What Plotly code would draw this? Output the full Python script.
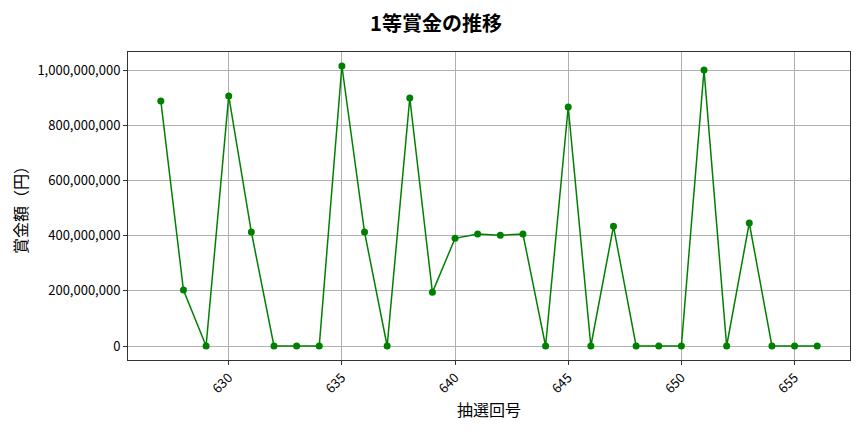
import plotly.graph_objects as go

# 抽選回号 と 1等賞金（円）
draws = list(range(627, 657))
prizes = [
    888_000_000, 203_000_000, 0, 906_000_000, 413_000_000,
    0, 0, 0, 1_014_500_000, 413_000_000,
    0, 898_600_000, 194_400_000, 390_000_000, 405_800_000,
    401_000_000, 405_800_000, 0, 866_000_000, 0,
    433_600_000, 0, 0, 0, 1_000_000_000,
    0, 445_700_000, 0, 0, 0,
]
x_ticks = [630, 635, 640, 645, 650, 655]
y_ticks = [0, 200_000_000, 400_000_000, 600_000_000, 800_000_000, 1_000_000_000]

FONT = "Noto Sans CJK JP"

fig = go.Figure()
fig.add_trace(go.Scatter(
    x=draws, y=prizes, mode="lines+markers",
    line=dict(color="#008000", width=1.5),
    marker=dict(color="#008000", size=7),
))

span = max(prizes) - min(prizes)
# page body has an 8px margin, so the figure is sized to the visible area
fig.update_layout(
    width=856, height=424,
    margin=dict(l=120, r=14, t=44, b=72),
    paper_bgcolor="white", plot_bgcolor="white",
    font=dict(family=FONT, color="black", size=13),
    showlegend=False,
    title=dict(text="<b>1等賞金の推移</b>", x=0.5, xanchor="center",
               y=0.962, yanchor="middle", font=dict(size=20)),
    xaxis=dict(
        range=[625.55, 657.45], tickvals=x_ticks, tickangle=-45,
        showgrid=True, gridcolor="#b0b0b0", gridwidth=1,
        showline=True, linecolor="#333", linewidth=1, mirror=True,
        ticks="outside", ticklen=4, tickcolor="#333",
        title=dict(text="抽選回号", font=dict(size=16), standoff=6),
        zeroline=False, automargin=False,
    ),
    yaxis=dict(
        range=[min(prizes) - 0.05 * span, max(prizes) + 0.05 * span],
        tickvals=y_ticks, tickformat=",d",
        showgrid=True, gridcolor="#b0b0b0", gridwidth=1,
        showline=True, linecolor="#333", linewidth=1, mirror=True,
        ticks="outside", ticklen=4, tickcolor="#333",
        title=dict(text="賞金額（円）", font=dict(size=16), standoff=12),
        zeroline=False, automargin=False,
    ),
)

fig.write_html("out.html")
